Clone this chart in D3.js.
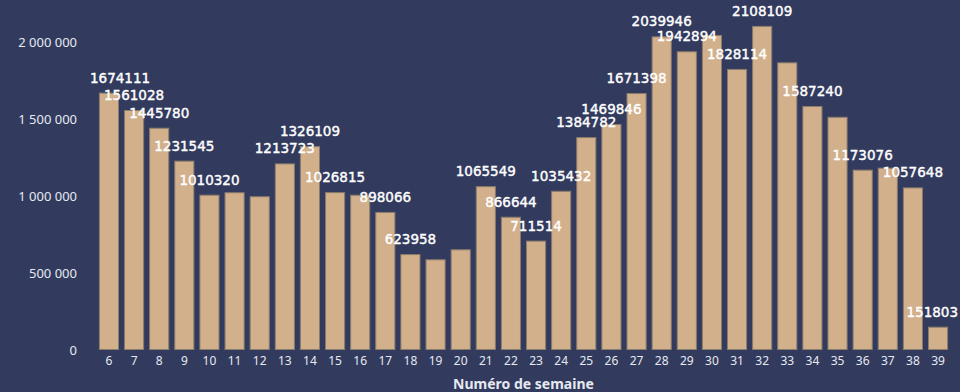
<!DOCTYPE html>
<html>
<head>
<meta charset="utf-8">
<script src="https://cdn.jsdelivr.net/npm/d3@7"></script>
<style>
  html, body { margin: 0; padding: 0; background: #323b5e; }
  svg { display: block; }
</style>
</head>
<body>
<div id="chart"></div>
<script>
// Weekly totals by week number
const weeks = [6, 7, 8, 9, 10, 11, 12, 13, 14, 15, 16, 17, 18, 19, 20, 21, 22,
               23, 24, 25, 26, 27, 28, 29, 30, 31, 32, 33, 34, 35, 36, 37, 38, 39];
const values = [1674111, 1561028, 1445780, 1231545, 1010320, 1026000, 1000000,
                1213723, 1326109, 1026815, 1010000, 898066, 623958, 590000, 655000,
                1065549, 866644, 711514, 1035432, 1384782, 1469846, 1671398,
                2039946, 1942894, 2049000, 1828114, 2108109, 1871000, 1587240,
                1517000, 1173076, 1186000, 1057648, 151803];
// Weeks whose value label is displayed
const labelledWeeks = [6, 7, 8, 9, 10, 13, 14, 15, 17, 18, 21, 22, 23, 24, 25,
                       26, 27, 28, 29, 31, 32, 34, 36, 38, 39];
const yTicks = [0, 500000, 1000000, 1500000, 2000000];
const xTitle = "Numéro de semaine";

const W = 960, H = 392;
const svg = d3.select("#chart").append("svg")
  .attr("width", W).attr("height", H);

svg.append("rect").attr("width", W).attr("height", H).attr("fill", "#323b5e");

const x = d3.scaleBand()
  .domain(weeks)
  .range([96.4, 950.6])
  .paddingInner(0.2)
  .paddingOuter(0.1);

const y = d3.scaleLinear()
  .domain([0, 2000000])
  .range([350, 42.5]);

const data = weeks.map((w, i) => ({ week: w, value: values[i] }));

// Bars
svg.append("g").selectAll("rect")
  .data(data)
  .join("rect")
  .attr("x", d => x(d.week) + 0.5)
  .attr("y", d => y(d.value) + 0.5)
  .attr("width", x.bandwidth() - 1)
  .attr("height", d => y(0) - y(d.value) - 1)
  .attr("fill", "#d2b08b")
  .attr("stroke", "#8a7c6c")
  .attr("stroke-width", 1);

// Y axis labels (no line, no ticks)
const fmt = v => d3.format(",")(v).replace(/,/g, " ");
const yAxis = d3.axisLeft(y).tickValues(yTicks).tickFormat(fmt).tickSize(0).tickPadding(0);
const yg = svg.append("g").attr("transform", "translate(77,0)").call(yAxis);
yg.select(".domain").remove();
yg.selectAll("text")
  .attr("fill", "#e6e9f1")
  .style("font-family", "'Noto Sans', sans-serif")
  .style("font-size", "13px");

// X axis labels
const xAxis = d3.axisBottom(x).tickSize(0).tickPadding(0);
const xg = svg.append("g").attr("transform", "translate(0,356)").call(xAxis);
xg.select(".domain").remove();
xg.selectAll("text")
  .attr("fill", "#e6e9f1")
  .style("font-family", "'Noto Sans', sans-serif")
  .style("font-size", "12px");

// X axis title
svg.append("text")
  .attr("x", (x.range()[0] + x.range()[1]) / 2)
  .attr("y", 389)
  .attr("text-anchor", "middle")
  .attr("fill", "#e6e9f1")
  .style("font-family", "'Noto Sans', sans-serif")
  .style("font-size", "14px")
  .style("font-weight", "bold")
  .text(xTitle);

// Value labels, kept inside the horizontal bounds of the chart
const labelLeft = 90, labelRight = 958;
const labels = svg.append("g").selectAll("text")
  .data(data.filter(d => labelledWeeks.includes(d.week)))
  .join("text")
  .attr("y", d => y(d.value) - 10)
  .attr("text-anchor", "middle")
  .attr("fill", "#ffffff")
  .attr("stroke", "#ffffff")
  .attr("stroke-width", 0.4)
  .style("font-family", "'DejaVu Sans', sans-serif")
  .style("font-size", "13.5px")
  .text(d => d.value);

labels.attr("x", function(d) {
  const w = this.getComputedTextLength();
  const c = x(d.week) + x.bandwidth() / 2;
  return Math.max(labelLeft + w / 2, Math.min(labelRight - w / 2, c));
});
</script>
</body>
</html>
